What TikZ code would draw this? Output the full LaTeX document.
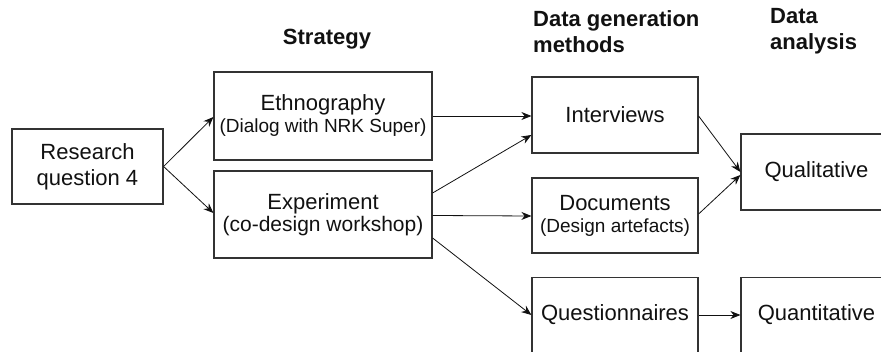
\documentclass[tikz,border=0pt]{standalone}
\usepackage{fontspec}
\setmainfont{Liberation Sans}
\usetikzlibrary{arrows.meta,calc}
\definecolor{edge}{HTML}{333333}
\definecolor{ink}{HTML}{111111}
\newcommand{\mainsize}{\fontsize{22}{26}\selectfont}
\newcommand{\midsize}{\fontsize{21}{24}\selectfont}
\newcommand{\subsize}{\fontsize{19}{22}\selectfont}
\begin{document}
\begin{tikzpicture}[x=1pt,y=-1pt,
  box/.style={draw=edge,line width=1.2pt,rectangle,inner sep=0pt,align=center,
    text=ink,font=\mainsize},
  heading/.style={text=ink,font=\bfseries\fontsize{22}{26}\selectfont,inner sep=0pt},
  link/.style={draw=ink,line width=0.8pt,-{Stealth[length=10pt,width=8pt]}}]
  \useasboundingbox (0,0) rectangle (881,352);

  % column headings (multi-line nodes sit on the baseline of their last line)
  \node[heading,anchor=base] (hstrat) at (327,45) {Strategy};
  \node[heading,anchor=base west,align=left] (hdata) at (533,53) {Data generation\\methods};
  \node[heading,anchor=base west,align=left] (hanal) at (770,50) {Data\\analysis};

  % boxes
  \node[box,minimum width=151pt,minimum height=75pt] (rq) at (87.5,166.5) {Research\\question 4};
  \node[box,minimum width=218pt,minimum height=88pt] (eth) at (323,116)
    {Ethnography\\[-4pt]{\subsize(Dialog with NRK Super)}};
  \node[box,minimum width=218pt,minimum height=87pt] (exp) at (323,214.5)
    {Experiment\\[-4pt]{\midsize(co-design workshop)}};
  \node[box,minimum width=166pt,minimum height=76pt] (int) at (615,115) {Interviews};
  \node[box,minimum width=166pt,minimum height=75pt] (doc) at (615,215.5)
    {Documents\\[-4pt]{\subsize(Design artefacts)}};
  \node[box,minimum width=166pt,minimum height=75pt] (que) at (615,315) {Questionnaires};
  \node[box,minimum width=151pt,minimum height=76pt] (qual) at (816.5,172) {Qualitative};
  \node[box,minimum width=151pt,minimum height=75pt] (quan) at (816.5,315) {Quantitative};

  % connectors
  \draw[link] (rq.east) -- ([yshift=-1pt]eth.west);
  \draw[link] (rq.east) -- ([yshift=1.5pt]exp.west);
  \draw[link] (eth.east) -- (eth.east -| int.west);
  \draw[link] ([yshift=21.5pt]exp.east) -- ([yshift=-20pt]int.west);
  \draw[link] ([yshift=-1pt]exp.east) -- ([yshift=-0.5pt]doc.west);
  \draw[link] ([yshift=-23.5pt]exp.east) -- (que.west);
  \draw[link] ([yshift=-1pt]int.east) -- ([yshift=0pt]qual.west);
  \draw[link] ([yshift=1.5pt]doc.east) -- ([yshift=-3pt]qual.west);
  \draw[link] (que.east) -- (quan.west);
\end{tikzpicture}
\end{document}
